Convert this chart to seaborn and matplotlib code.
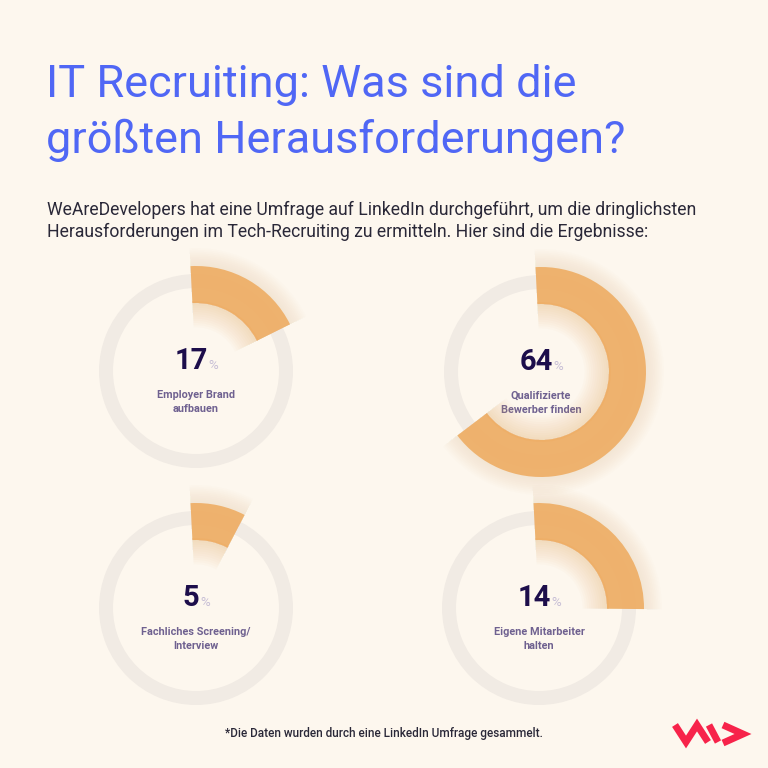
import matplotlib
matplotlib.use("Agg")
import matplotlib.pyplot as plt
import seaborn as sns

sns.set_theme(style="white")
plt.rcParams['font.family'] = ['Roboto', 'DejaVu Sans']

# ---------------------------------------------------------
# Data
# ---------------------------------------------------------
labels = ["Employer Brand\naufbauen", "Qualifizierte\nBewerber finden",
          "Fachliches Screening/\nInterview", "Eigene Mitarbeiter\nhalten"]
shown_pct = [17, 64, 5, 14]          # number printed in the middle
arc_pct = [18.5, 65.5, 8.5, 26]      # how long the orange arc is drawn

title_lines = ["IT Recruiting: Was sind die", "größten Herausforderungen?"]
subtitle_lines = ["WeAreDevelopers hat eine Umfrage auf LinkedIn durchgeführt, um die dringlichsten",
                  "Herausforderungen im Tech-Recruiting zu ermitteln. Hier sind die Ergebnisse:"]
footnote = "*Die Daten wurden durch eine LinkedIn Umfrage gesammelt."

# colours
BG = "#fdf7ee"
BLUE = "#5067f5"
DARK = "#2a2838"
GREY_RING = "#f1ebe4"
ORANGE = "#eeab60"
NAVY = "#1d0e4b"
PURPLE = "#6f6190"
PCT = "#c6bdd5"
RED = "#f7234a"

W = H = 768
centers = [(196, 371), (541, 372), (196, 608), (539, 608)]

fig = plt.figure(figsize=(7.68, 7.68), dpi=100, facecolor=BG)
bg = fig.add_axes([0, 0, 1, 1])
bg.set_xlim(0, W)
bg.set_ylim(H, 0)
bg.axis("off")
bg.set_facecolor(BG)

# title + subtitle
for j, line in enumerate(title_lines):
    bg.text(46, 97 + 56 * j, line, color=BLUE, fontsize=32.5, fontweight="normal",
            va="baseline", ha="left")
for j, line in enumerate(subtitle_lines):
    bg.text(47, 215 + 22 * j, line, color=DARK, fontsize=12.7, va="baseline", ha="left")

half = 130
renderer = fig.canvas.get_renderer()
for i, (cx, cy) in enumerate(centers):
    ax = fig.add_axes([(cx - half) / W, 1 - (cy + half) / H, 2 * half / W, 2 * half / H])

    # grey track
    ax.pie([1], radius=0.97, colors=[GREY_RING],
           wedgeprops=dict(width=0.14, linewidth=0))

    share = arc_pct[i]
    rest = 100 - share
    # soft inner glow
    for k in range(12):
        ax.pie([share, rest], radius=0.70, startangle=93, counterclock=False,
               colors=[ORANGE, "none"],
               wedgeprops=dict(width=0.022 * (k + 1), linewidth=0, alpha=0.03))
    # soft outer glow
    for k in range(10):
        ax.pie([share, rest], radius=1.05 + 0.018 * (k + 1), startangle=93, counterclock=False,
               colors=[ORANGE, "none"],
               wedgeprops=dict(width=0.018 * (k + 1) + 0.37, linewidth=0, alpha=0.015))
    # orange arc
    ax.pie([share, rest], radius=1.05, startangle=93, counterclock=False,
           colors=[ORANGE, "none"],
           wedgeprops=dict(width=0.37, linewidth=0, alpha=0.88))

    # pie() resets the limits, so fix them afterwards (1 unit = 100 px)
    ax.set_xlim(-1.3, 1.3)
    ax.set_ylim(-1.3, 1.3)
    ax.set_aspect("equal")
    ax.axis("off")

    # number + percent sign, centred together
    num = bg.text(cx, cy - 2, str(shown_pct[i]), color=NAVY, fontsize=21,
                  fontweight="bold", ha="center", va="baseline")
    bb = num.get_window_extent(renderer)
    shift = 5
    num.set_x(cx - shift)
    bg.text(cx - shift + bb.width / 2 + 1, cy - 2, "%", color=PCT, fontsize=9.5,
            ha="left", va="baseline")

    l1, l2 = labels[i].split("\n")
    bg.text(cx, cy + 24, l1, color=PURPLE, fontsize=7.8, fontweight="semibold",
            ha="center", va="center")
    bg.text(cx, cy + 38, l2, color=PURPLE, fontsize=7.8, fontweight="semibold",
            ha="center", va="center")

# footnote
bg.text(384, 733, footnote, color=DARK, fontsize=8.5, fontweight="medium",
        ha="center", va="center")

# logo
bg.plot([675, 686, 697, 708], [725, 742, 725, 742], color=RED, lw=5,
        solid_joinstyle="miter", solid_capstyle="butt")
bg.plot([709, 718], [725, 742], color=RED, lw=5, solid_capstyle="butt")
bg.plot([723, 743, 723], [725, 734, 743], color=RED, lw=5,
        solid_joinstyle="miter", solid_capstyle="butt")

fig.savefig("out.png", dpi=100, facecolor=BG)
